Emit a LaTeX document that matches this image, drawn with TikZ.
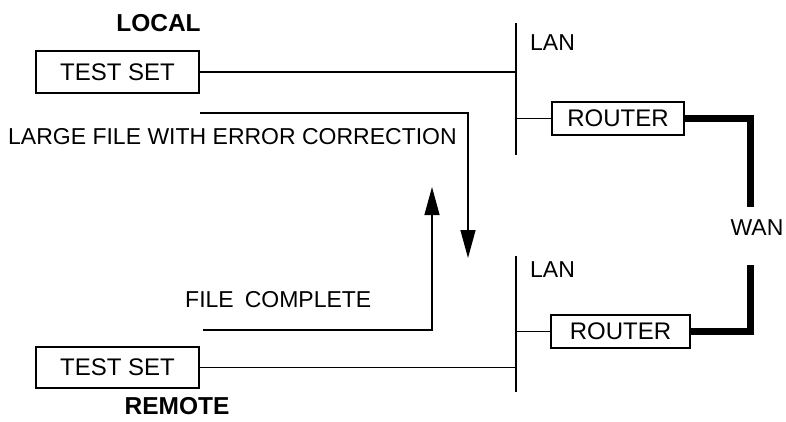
\documentclass[tikz,border=0pt]{standalone}
\usepackage{fontspec}
\setmainfont{Liberation Sans}
\usetikzlibrary{arrows.meta}
\begin{document}
\begin{tikzpicture}[x=1pt,y=-1pt,
  box/.style={draw,line width=1.2pt,inner sep=0pt,font=\fontsize{24}{27}\selectfont},
  lbl/.style={font=\fontsize{23}{26}\selectfont,inner sep=0pt},
  bold/.style={font=\fontsize{24.5}{27}\selectfont\bfseries,inner sep=0pt},
  thin/.style={line width=1.3pt},
  wan/.style={line width=7pt},
  flow/.style={line width=1.3pt,-{Triangle[length=28pt,width=15pt]}}]
\useasboundingbox (0,0) rectangle (786,421);
% labels
\node[bold] (local) at (158.5,23.5) {LOCAL};
\node[bold] (remote) at (177,406) {REMOTE};
% test sets
\node[box,minimum width=163pt,minimum height=42pt] (ts1) at (117.5,72) {TEST SET};
\node[box,minimum width=163pt,minimum height=41pt] (ts2) at (117.5,367.5) {TEST SET};
% LAN buses
\coordinate (b1t) at (516,23);
\coordinate (b1b) at (516,155);
\coordinate (b2t) at (516,256);
\coordinate (b2b) at (516,392);
\draw[thin] (b1t) -- (b1b);
\draw[thin] (b2t) -- (b2b);
\node[lbl,anchor=west] (lan1) at (530,43) {LAN};
\node[lbl,anchor=west] (lan2) at (530,270) {LAN};
% routers
\node[box,minimum width=132pt,minimum height=33pt] (r1) at (618,118.5) {ROUTER};
\node[box,minimum width=139pt,minimum height=33pt] (r2) at (620.5,331.5) {ROUTER};
% connections
\draw[thin] (ts1.east) -- (ts1.east -| b1t);
\draw[thin] (ts2.east) -- (ts2.east -| b2t);
\draw[thin] (r1.west -| b1t) -- (r1.west);
\draw[thin] (r2.west -| b2t) -- (r2.west);
% WAN
\node[lbl] (wanl) at (757,228) {WAN};
\coordinate (w1) at (750,207);
\coordinate (w2) at (750,265);
\draw[wan] (r1.east) -| (w1);
\draw[wan] (r2.east) -| (w2);
% flows
\coordinate (f1s) at (200,113);
\coordinate (f1e) at (468,258);
\draw[flow] (f1s) -| (f1e);
\node[lbl,anchor=west] (large) at (8,137) {LARGE FILE WITH ERROR CORRECTION};
\coordinate (f2s) at (203,330);
\coordinate (f2e) at (432,187);
\draw[flow] (f2s) -| (f2e);
\node[lbl,anchor=west] (fc) at (185,300) {FILE\hspace{0.2em} COMPLETE};
\end{tikzpicture}
\end{document}
